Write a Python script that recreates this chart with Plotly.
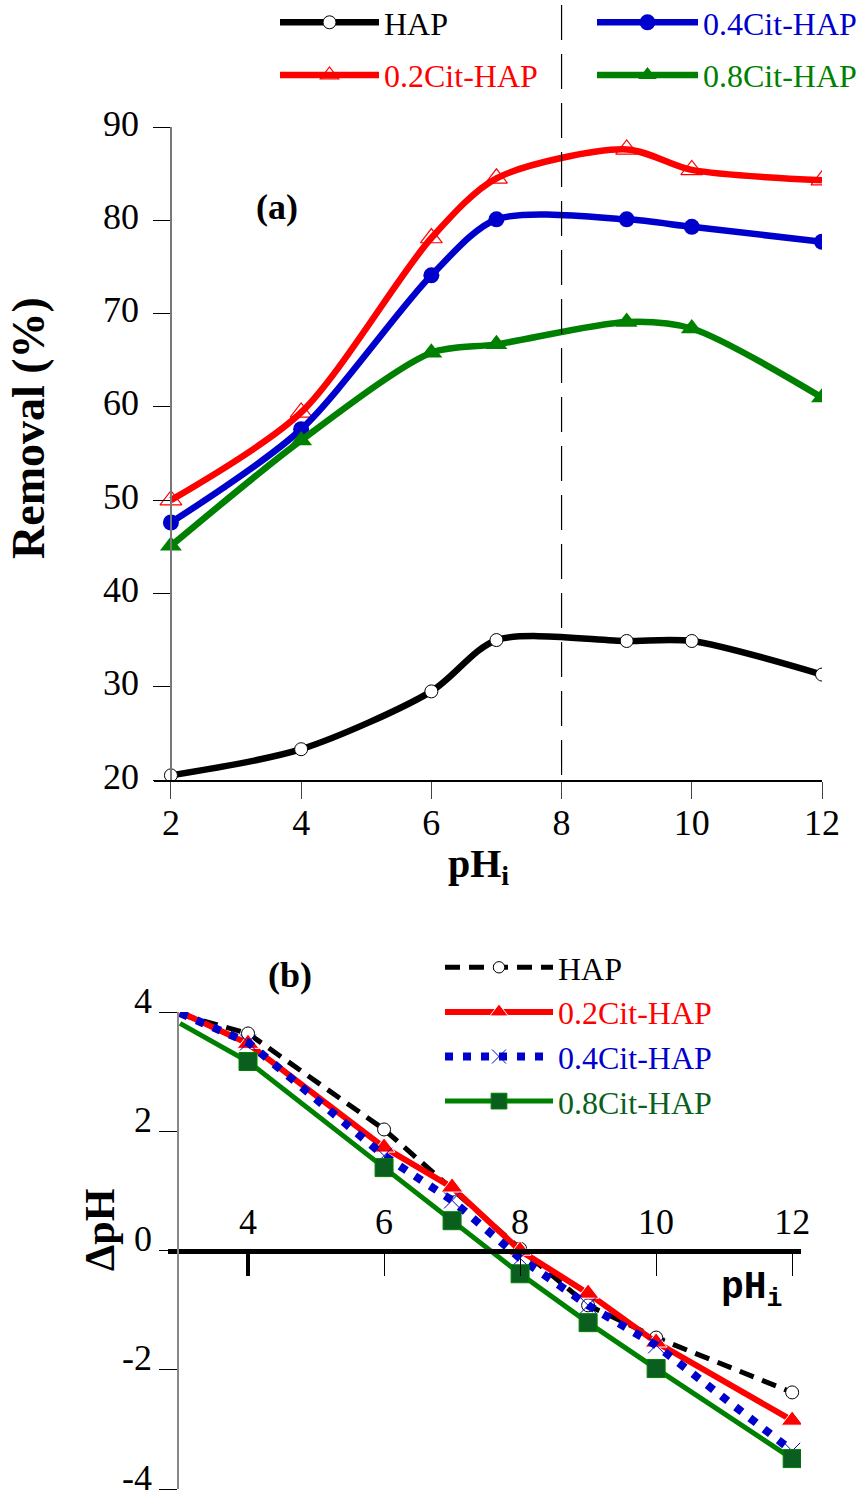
import plotly.graph_objects as go

W, H = 868, 1495

# ---------------- data: panel (a) ----------------
ph_a = [2, 4, 6, 7, 9, 10, 12]
rem_hap = [20.5, 23.3, 29.5, 35.0, 34.9, 34.9, 31.3]
rem_02 = [50.0, 59.4, 78.1, 84.5, 87.6, 85.4, 84.3]
rem_04 = [47.6, 57.6, 74.1, 80.1, 80.1, 79.3, 77.7]
rem_08 = [45.1, 56.4, 65.8, 66.7, 69.1, 68.4, 61.0]

# ---------------- data: panel (b) ----------------
ph_b = [3, 4, 6, 7, 8, 9, 10, 12]
dph_hap = [3.96, 3.64, 2.03, 1.02, 0.03, -0.92, -1.46, -2.38]
dph_02 = [4.0, 3.47, 1.73, 1.06, 0.0, -0.72, -1.54, -2.85]
dph_04 = [3.98, 3.49, 1.59, 0.84, -0.13, -0.92, -1.59, -3.36]
dph_08 = [3.81, 3.17, 1.39, 0.50, -0.39, -1.21, -1.98, -3.49]

xticks_a = [2, 4, 6, 8, 10, 12]
yticks_a = [20, 30, 40, 50, 60, 70, 80, 90]
xticks_b = [4, 6, 8, 10, 12]
yticks_b = [-4, -2, 0, 2, 4]
yticklabels_b = ["-4", "-2", "0", "2", "4"]

RED = "#FF0000"
BLUE = "#0000CC"
GREEN = "#008000"
DGREEN = "#0B5F1E"
SERIF = "Liberation Serif, Times New Roman, serif"
MONO = "Liberation Mono, Courier New, monospace"


def px(x):
    return x / W


def py(y):
    return 1 - y / H


def col(txt, c):
    return f"<span style='color:{c}'>{txt}</span>"


fig = go.Figure()

# ---- panel (a) traces ----
fig.add_trace(go.Scatter(
    x=ph_a, y=rem_hap, mode="lines+markers", name=col("HAP", "#000000"),
    line=dict(color="#000000", width=6.5, shape="spline", smoothing=0.8),
    marker=dict(symbol="circle", size=13, color="white", opacity=1,
                line=dict(color="#000000", width=1)),
    legend="legend", legendgroup="a1", xaxis="x", yaxis="y"))
fig.add_trace(go.Scatter(
    x=ph_a, y=rem_02, mode="lines+markers", name=col("0.2Cit-HAP", RED),
    line=dict(color=RED, width=6.5, shape="spline", smoothing=0.8),
    marker=dict(symbol="triangle-up-open", size=19, color=RED, opacity=1,
                line=dict(color=RED, width=1.2)),
    legend="legend", legendgroup="a2", xaxis="x", yaxis="y"))
fig.add_trace(go.Scatter(
    x=ph_a, y=rem_04, mode="lines+markers", name=col("0.4Cit-HAP", BLUE),
    line=dict(color=BLUE, width=6.5, shape="spline", smoothing=0.8),
    marker=dict(symbol="circle", size=16, color=BLUE, opacity=1),
    legend="legend2", legendgroup="a3", xaxis="x", yaxis="y"))
fig.add_trace(go.Scatter(
    x=ph_a, y=rem_08, mode="lines+markers", name=col("0.8Cit-HAP", GREEN),
    line=dict(color=GREEN, width=6.5, shape="spline", smoothing=0.8),
    marker=dict(symbol="triangle-up", size=19, color=GREEN, opacity=1),
    legend="legend2", legendgroup="a4", xaxis="x", yaxis="y"))

# ---- panel (b) traces ----
msz = lambda s: [0] + [s] * (len(ph_b) - 1)
fig.add_trace(go.Scatter(
    x=ph_b, y=dph_hap, mode="lines+markers", name=col("HAP", "#000000"),
    line=dict(color="#000000", width=5, dash="15px,9px"),
    marker=dict(symbol="circle", size=msz(13), color="white", opacity=1,
                line=dict(color="#000000", width=1)),
    legend="legend3", xaxis="x2", yaxis="y2"))
fig.add_trace(go.Scatter(
    x=ph_b, y=dph_02, mode="lines+markers", name=col("0.2Cit-HAP", RED),
    line=dict(color=RED, width=6),
    marker=dict(symbol="triangle-up", size=msz(19), color=RED, opacity=1),
    legend="legend3", xaxis="x2", yaxis="y2"))
fig.add_trace(go.Scatter(
    x=ph_b, y=dph_04, mode="lines+markers", name=col("0.4Cit-HAP", BLUE),
    line=dict(color=BLUE, width=8, dash="8px,10px"),
    marker=dict(symbol="x-thin-open", size=msz(16), color=BLUE, opacity=1,
                line=dict(color=BLUE, width=1)),
    legend="legend3", xaxis="x2", yaxis="y2"))
fig.add_trace(go.Scatter(
    x=ph_b, y=dph_08, mode="lines+markers", name=col("0.8Cit-HAP", DGREEN),
    line=dict(color=GREEN, width=5),
    marker=dict(symbol="square", size=msz(18), color=DGREEN, opacity=1,
                line=dict(color=GREEN, width=1)),
    legend="legend3", xaxis="x2", yaxis="y2"))

tickfont = dict(family=SERIF, size=36, color="#000000")
legfont = dict(family=SERIF, size=32, color="#000000")

fig.update_layout(
    width=W, height=H,
    margin=dict(l=0, r=0, t=0, b=0, autoexpand=False),
    paper_bgcolor="white", plot_bgcolor="rgba(0,0,0,0)",
    showlegend=True,
    # panel (a)
    xaxis=dict(domain=[px(154), px(822)], range=[1.74, 12], anchor="y",
               tickvals=xticks_a, ticks="outside", ticklen=17, tickwidth=1.2, tickcolor="#444",
               ticklabelstandoff=-7,
               showline=True, linecolor="#000000", linewidth=1.5,
               showgrid=False, zeroline=False, tickfont=tickfont),
    yaxis=dict(domain=[py(780), py(127)], range=[20, 90], anchor="free", position=px(171),
               tickvals=yticks_a, ticks="outside", ticklen=17, tickwidth=1.2, tickcolor="#000000",
               ticklabelstandoff=7, ticklabelshift=-4,
               showline=True, linecolor="#777777", linewidth=1.5,
               showgrid=False, zeroline=False, tickfont=tickfont),
    # panel (b)
    xaxis2=dict(domain=[px(168), px(801)], range=[2.8235, 12.13], anchor="free",
                position=py(1250.5), side="top",
                tickvals=xticks_b, ticks="inside", ticklen=22, tickwidth=1.2, tickcolor="#000000",
                showline=True, linecolor="#000000", linewidth=5,
                showgrid=False, zeroline=False, tickfont=tickfont),
    xaxis3=dict(domain=[px(168), px(801)], range=[2.8235, 12.13], anchor="free",
                position=py(1250.5), side="top", overlaying="x2",
                tickvals=[4], ticks="inside", ticklen=24, tickwidth=4, tickcolor="#000000",
                showticklabels=False, showline=False, showgrid=False, zeroline=False),
    yaxis2=dict(domain=[py(1489), py(1012)], range=[-4, 4], anchor="free", position=px(178),
                tickvals=yticks_b, ticktext=yticklabels_b, ticklabeloverflow="allow",
                ticklabelshift=-12,
                ticks="outside", ticklen=18, tickwidth=1.2, tickcolor="#000000",
                showline=True, linecolor="#888888", linewidth=1.5,
                showgrid=False, zeroline=False, tickfont=tickfont),
    legend=dict(x=px(275), y=py(-5), xanchor="left", yanchor="top", bgcolor="rgba(0,0,0,0)",
                font=legfont, itemwidth=99, traceorder="grouped", tracegroupgap=8,
                borderwidth=0),
    legend2=dict(x=px(592), y=py(-5), xanchor="left", yanchor="top", bgcolor="rgba(0,0,0,0)",
                 font=legfont, itemwidth=101, traceorder="grouped", tracegroupgap=8,
                 borderwidth=0),
    legend3=dict(x=px(440), y=py(940), xanchor="left", yanchor="top", bgcolor="rgba(0,0,0,0)",
                 font=legfont, itemwidth=108, borderwidth=0),
)

# invisible trace so the overlay tick axis exists
fig.add_trace(go.Scatter(x=[4], y=[0], xaxis="x3", yaxis="y2", mode="markers",
                         marker=dict(opacity=0), showlegend=False, hoverinfo="skip"))

# dashed reference line at pH 8 in panel (a)
fig.add_shape(type="line", xref="x", yref="paper", x0=8, x1=8, y0=py(775), y1=1.0,
              line=dict(color="#000000", width=1.2, dash="35px,14px"))

ann = [
    dict(text="<b>(a)</b>", x=px(277), y=py(207), font=dict(family=SERIF, size=36)),
    dict(text="<b>(b)</b>", x=px(290), y=py(975), font=dict(family=SERIF, size=36)),
    dict(text="<b>Removal (%)</b>", x=px(28), y=py(428), textangle=-90,
         font=dict(family=SERIF, size=46)),
    dict(text="<b>pH<sub>i</sub></b>", x=px(478), y=py(866), font=dict(family=SERIF, size=40)),
    dict(text="<b>ΔpH</b>", x=px(100), y=py(1230), textangle=-90,
         font=dict(family=SERIF, size=42)),
    dict(text="<b>pH<sub>i</sub></b>", x=px(752), y=py(1290), font=dict(family=MONO, size=38)),
]
for a in ann:
    a.update(xref="paper", yref="paper", showarrow=False, xanchor="center", yanchor="middle")
    a["font"]["color"] = "#000000"
    fig.add_annotation(**a)

fig.write_html("out.html")
